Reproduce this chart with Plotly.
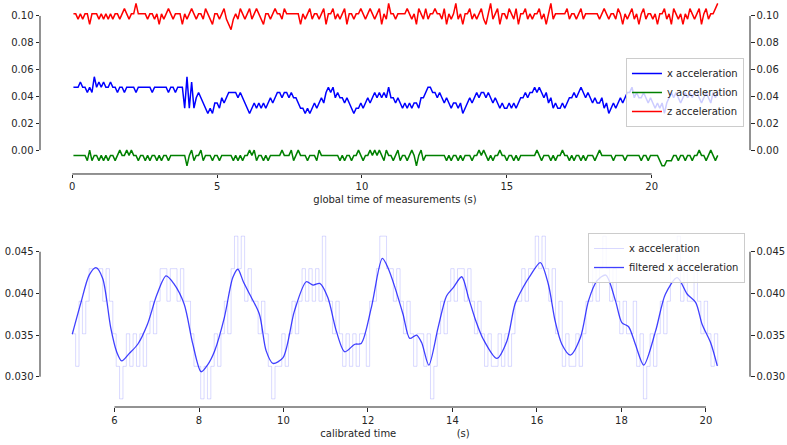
import numpy as np
import plotly.graph_objects as go

# ---------------- data (sensor counts, 1 count = 1/256 g) ----------------
LSB = 1.0 / 256.0
DT = 0.08            # sampling period (s)
T_CAL0 = 5.0         # first sample shown in calibrated window (s)

x_pre_counts = [
    12, 12, 12, 13, 12, 12, 11, 12, 11, 14,
    12, 13, 12, 13, 12, 12, 13, 12, 12, 11,
    12, 12, 11, 12, 12, 12, 12, 11, 12, 12,
    12, 12, 12, 12, 11, 12, 12, 12, 12, 12,
    12, 11, 12, 12, 11, 12, 12, 12, 8, 14,
    8, 13, 8, 10, 11, 10, 9, 8, 7, 8,
    7, 9]

x_mid_counts = [
    9, 8, 10, 9, 10, 11, 11, 11, 11, 10, 11, 10,
    9, 8, 7, 8, 9, 8, 9, 8, 9, 8, 9, 10,
    9, 10, 11, 11, 10, 11, 11, 10, 11, 10, 10, 9,
    8, 8, 7, 8, 7, 8, 9, 8, 9, 10, 9, 11,
    12, 11, 12, 10, 11, 10, 10, 9, 10, 9, 8, 7,
    8, 8, 9, 8, 9, 10, 9, 10, 11, 10, 11, 10,
    11, 10, 12, 10, 10, 9, 10, 9, 8, 9, 8, 9,
    8, 9, 9, 8, 10, 10, 11, 12, 12, 11, 11, 10,
    11, 10, 9, 10, 9, 8, 9, 9, 8, 9, 7, 8,
    9, 10, 9, 10, 11, 10, 11, 11, 10, 11, 10, 9,
    10, 9, 8, 9, 8, 8, 9, 8, 9, 8, 9, 10,
    10, 11, 10, 11, 11, 12, 11, 12, 11, 10, 11, 9,
    10, 8, 9, 8, 8, 9, 8, 9, 10, 10, 11, 10,
    11, 12, 11, 10, 11, 10, 9, 10, 9, 9, 10, 8,
    9, 7, 8, 9, 8, 9, 10, 9, 10, 11, 11, 12,
    10, 11, 10, 10, 11, 10, 9, 10, 9, 8, 9, 8]

x_post_counts = [9, 7, 9, 10, 11, 10, 11, 10, 9, 10, 11, 10, 11,
                 10, 11, 11, 10, 9, 10, 11, 10, 9, 11, 10, 11]

y_counts = [
    -1, -1, -1, -1, -1, -1, -2, 0, -2, -1, -1, -2, -1, -2, -1, -2, -1, -1, -2, -1,
    0, -1, -1, 0, -1, 0, -1, -1, -2, -1, -1, -2, -1, -2, -1, -1, -2, -1, -2, -1,
    -1, -2, -1, -1, -1, -1, -1, -1, -1, -3, -1, 0, -2, -1, -1, 0, -2, -1, -1, -1,
    -2, -1, -1, -2, -1, -1, -1, -1, -1, -2, -1, -2, -1, -2, -1, -1, 0, -1, 0, -2,
    -1, -1, -2, -1, -2, -1, -1, -1, -1, -1, 0, -1, -1, -1, 0, -2, -1, 0, -1, -1,
    -1, -2, -1, -1, -1, -2, 0, -1, -1, -1, -1, -1, -1, -1, -1, -2, -1, -2, -1, -1,
    -2, -1, -1, 0, -1, -2, -1, -1, 0, -1, 0, -1, 0, -1, -2, 0, -1, -1, -2, -1,
    0, -2, -1, -1, -2, -1, 0, -1, -3, -1, 0, -2, -1, -1, -1, -1, -1, -1, -1, -1,
    -1, -2, -1, -2, -1, -1, -2, -1, -2, -1, -1, -1, -2, -1, -1, 0, -1, 0, -1, -2,
    -1, -2, -1, -1, 0, -1, -1, -2, -1, -1, -2, -1, -2, -1, -1, -1, -1, -1, -1, -1,
    0, -1, -2, -1, -1, -1, -2, -1, -2, -1, -1, 0, -1, -1, -2, -1, -2, -1, -1, -2,
    -1, -2, -1, -1, -1, -2, -1, 0, -1, -1, -1, -1, -1, -2, -1, -1, -1, -1, -2, -1,
    -1, -1, -1, -1, -1, -2, -1, -1, -2, -1, -1, -1, -1, -2, -3, -3, -2, -2, -2, -1,
    -1, -2, -1, -1, -2, -1, -1, -2, -1, -1, 0, -1, -1, -2, -1, 0, -1, -2, -1]

z_counts = [
    26, 26, 25, 26, 25, 26, 26, 24, 26, 26, 26, 25, 26, 25, 26, 25, 26, 25, 26, 26,
    25, 26, 27, 26, 25, 26, 26, 28, 26, 26, 26, 26, 25, 26, 26, 25, 26, 24, 26, 25,
    26, 27, 26, 25, 26, 26, 26, 24, 26, 25, 26, 27, 26, 25, 26, 26, 25, 27, 26, 25,
    24, 26, 26, 25, 26, 27, 25, 24, 23, 25, 26, 25, 27, 26, 25, 26, 27, 25, 26, 27,
    26, 25, 24, 26, 26, 25, 26, 27, 26, 26, 25, 27, 26, 26, 26, 26, 26, 26, 24, 26,
    25, 26, 27, 25, 26, 26, 25, 26, 27, 24, 26, 26, 27, 25, 26, 25, 26, 27, 24, 26,
    26, 25, 26, 26, 27, 26, 25, 26, 27, 26, 25, 26, 27, 24, 26, 25, 28, 26, 26, 25,
    26, 26, 26, 26, 27, 26, 25, 26, 24, 27, 26, 25, 27, 25, 26, 26, 27, 26, 26, 25,
    27, 24, 26, 25, 26, 28, 25, 26, 24, 26, 26, 27, 25, 26, 25, 26, 27, 25, 24, 26,
    28, 25, 26, 27, 24, 26, 26, 25, 27, 26, 25, 27, 24, 26, 26, 27, 25, 26, 25, 26,
    26, 27, 25, 26, 24, 26, 28, 25, 26, 26, 26, 26, 26, 27, 25, 26, 26, 25, 26, 27,
    25, 26, 26, 26, 26, 26, 26, 25, 26, 27, 26, 25, 26, 26, 25, 27, 26, 24, 26, 25,
    26, 27, 25, 26, 24, 26, 27, 25, 26, 26, 25, 26, 24, 26, 26, 27, 25, 26, 24, 27,
    26, 25, 26, 24, 26, 25, 27, 26, 25, 26, 27, 24, 26, 27, 25, 26, 26, 27, 28]

# filtered x acceleration, read at key times (s) from the lower panel
filt_t = [5.0, 5.2, 5.4, 5.56, 5.72, 5.91, 6.05, 6.17, 6.35, 6.55, 6.78, 7.0,
          7.22, 7.4, 7.65, 7.85, 8.05, 8.2, 8.37, 8.6, 8.8, 8.92, 9.05, 9.2,
          9.43, 9.59, 9.75, 9.99, 10.26, 10.54, 10.7, 10.86, 11.05, 11.25,
          11.45, 11.69, 11.84, 12.08, 12.34, 12.48, 12.64, 12.83, 12.99, 13.15,
          13.27, 13.44, 13.66, 13.86, 14.02, 14.22, 14.38, 14.54, 14.73, 15.05,
          15.29, 15.48, 15.68, 15.85, 16.08, 16.27, 16.43, 16.59, 16.79, 17.03,
          17.22, 17.42, 17.63, 17.86, 18.01, 18.17, 18.33, 18.53, 18.81, 19.04,
          19.32, 19.56, 19.76, 19.91, 20.11, 20.27]
filt_x = [0.0351, 0.0388, 0.0422, 0.0431, 0.0418, 0.0359, 0.0330, 0.0319, 0.0328,
          0.0339, 0.0363, 0.0398, 0.0421, 0.0412, 0.0387, 0.0340, 0.0306, 0.0314,
          0.0331, 0.0371, 0.0419, 0.0429, 0.0414, 0.0399, 0.0375, 0.0331, 0.0316,
          0.0323, 0.0379, 0.0414, 0.0410, 0.0412, 0.0395, 0.0355, 0.0330, 0.0339,
          0.0340, 0.0383, 0.0442, 0.0430, 0.0407, 0.0375, 0.0346, 0.0350, 0.0341,
          0.0314, 0.0359, 0.0397, 0.0407, 0.0420, 0.0395, 0.0369, 0.0345, 0.0322,
          0.0343, 0.0387, 0.0408, 0.0422, 0.0437, 0.0411, 0.0367, 0.0339, 0.0326,
          0.0347, 0.0391, 0.0415, 0.0422, 0.0391, 0.0365, 0.0360, 0.0339, 0.0314,
          0.0355, 0.0399, 0.0419, 0.0399, 0.0389, 0.0363, 0.0341, 0.0313]

top_xticks = [0, 5, 10, 15, 20]
top_yticks = [0.00, 0.02, 0.04, 0.06, 0.08, 0.10]
bot_xticks = [6, 8, 10, 12, 14, 16, 18, 20]
bot_yticks = [0.030, 0.035, 0.040, 0.045]

# ---------------- derived arrays ----------------
x_counts = x_pre_counts + x_mid_counts + x_post_counts
n = min(len(x_counts), len(y_counts), len(z_counts))
x_g = np.array(x_counts[:n]) * LSB
y_g = np.array(y_counts[:n]) * LSB
z_g = np.array(z_counts[:n]) * LSB
t_global = T_CAL0 + (np.arange(n) - len(x_pre_counts)) * DT

x_cal = np.array(x_mid_counts) * LSB
t_cal = T_CAL0 + np.arange(len(x_mid_counts)) * DT

INK = "#262626"
FONT = dict(family="DejaVu Sans", size=10, color=INK)

fig = go.Figure()
fig.add_trace(go.Scatter(x=t_global, y=x_g, mode="lines", name="x acceleration",
                         line=dict(color="#0000ff", width=1.5), xaxis="x", yaxis="y"))
fig.add_trace(go.Scatter(x=t_global, y=y_g, mode="lines", name="y acceleration",
                         line=dict(color="#008000", width=1.5), xaxis="x", yaxis="y"))
fig.add_trace(go.Scatter(x=t_global, y=z_g, mode="lines", name="z acceleration",
                         line=dict(color="#ff0000", width=1.5), xaxis="x", yaxis="y"))
fig.add_trace(go.Scatter(x=[], y=[], showlegend=False, xaxis="x", yaxis="y2"))

fig.add_trace(go.Scatter(x=t_cal, y=x_cal, mode="lines", name="x acceleration",
                         line=dict(color="rgba(0,0,255,0.15)", width=1, shape="hv"),
                         xaxis="x2", yaxis="y3", legend="legend2"))
fig.add_trace(go.Scatter(x=filt_t, y=filt_x, mode="lines", name="filtered x acceleration",
                         line=dict(color="rgba(0,0,255,0.75)", width=1.3, shape="spline",
                                   smoothing=0.8),
                         xaxis="x2", yaxis="y3", legend="legend2"))
fig.add_trace(go.Scatter(x=[], y=[], showlegend=False, xaxis="x2", yaxis="y4"))

# axis ranges (matplotlib-like 5% margins)
def padded(lo, hi, frac=0.05):
    d = (hi - lo) * frac
    return [lo - d, hi + d]

top_xr = padded(float(t_global.min()) - DT / 2, float(t_global.max()))
top_yr = [padded(float(y_g.min()), float(z_g.max()))[0], 0.1119]
bot_xr = padded(float(t_cal.min()), float(t_cal.max()))
bot_yr = padded(float(x_cal.min()), float(x_cal.max()))

common = dict(showgrid=False, zeroline=False, showline=False, ticks="outside",
              ticklen=3.5, tickwidth=1, tickcolor=INK, tickfont=FONT, automargin=False)

fig.update_layout(
    width=787, height=445,
    margin=dict(l=40, r=37, t=0, b=38),
    paper_bgcolor="white", plot_bgcolor="white",
    font=FONT,
    xaxis=dict(domain=[0, 1], anchor="y", range=top_xr, tickvals=top_xticks,
               title=dict(text="global time of measurements (s)", font=FONT, standoff=4),
               **common),
    yaxis=dict(domain=[0.5725, 1], anchor="x", range=top_yr, tickvals=top_yticks,
               tickformat=".2f", **common),
    yaxis2=dict(overlaying="y", side="right", anchor="x", range=top_yr,
                tickvals=top_yticks, tickformat=".2f", **common),
    xaxis2=dict(domain=[0, 1], anchor="y3", range=bot_xr, tickvals=bot_xticks,
                title=dict(text="calibrated time" + "\u00a0" * 19 + "(s)", font=FONT,
                           standoff=5),
                **common),
    yaxis3=dict(domain=[0, 0.4398], anchor="x2", range=bot_yr, tickvals=bot_yticks,
                tickformat=".3f", **common),
    yaxis4=dict(overlaying="y3", side="right", anchor="x2", range=bot_yr,
                tickvals=bot_yticks, tickformat=".3f", **common),
    legend=dict(x=0.9915, y=0.8575, xanchor="right", yanchor="top",
                bgcolor="rgba(255,255,255,0.8)", bordercolor="#cccccc", borderwidth=1,
                font=FONT, itemwidth=30, tracegroupgap=0),
    legend2=dict(x=0.993, y=0.4275, xanchor="right", yanchor="top",
                 bgcolor="rgba(255,255,255,0.8)", bordercolor="#cccccc", borderwidth=1,
                 font=FONT, itemwidth=30, tracegroupgap=0),
)

# bounded spines (trimmed to the tick extent)
spine = dict(color=INK, width=1)
shapes = [
    dict(type="line", xref="x", yref="y domain", x0=top_xticks[0], x1=top_xticks[-1],
         y0=0, y1=0, line=spine),
    dict(type="line", xref="x domain", yref="y", x0=0, x1=0, y0=top_yticks[0],
         y1=top_yticks[-1], line=spine),
    dict(type="line", xref="x domain", yref="y", x0=1, x1=1, y0=top_yticks[0],
         y1=top_yticks[-1], line=spine),
    dict(type="line", xref="x2", yref="y3 domain", x0=bot_xticks[0], x1=bot_xticks[-1],
         y0=0, y1=0, line=spine),
    dict(type="line", xref="x2 domain", yref="y3", x0=0, x1=0, y0=bot_yticks[0],
         y1=bot_yticks[-1], line=spine),
    dict(type="line", xref="x2 domain", yref="y3", x0=1, x1=1, y0=bot_yticks[0],
         y1=bot_yticks[-1], line=spine),
]
fig.update_layout(shapes=shapes)

fig.write_html("out.html",
               config={"displayModeBar": False},
               post_script="document.body.style.margin='0';"
                           "document.body.style.overflow='hidden';")
